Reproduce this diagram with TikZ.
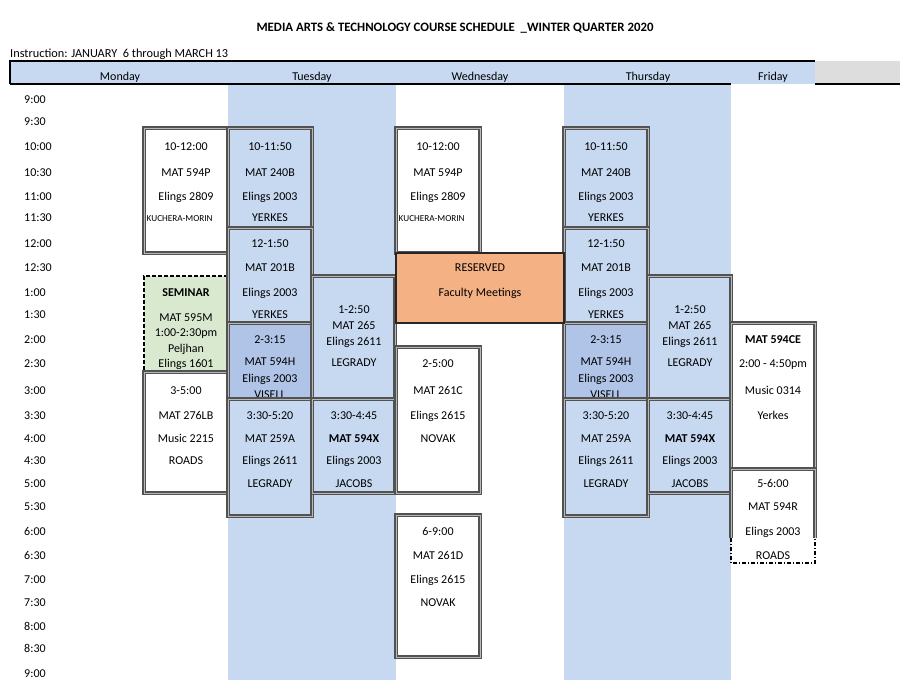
\documentclass[tikz,border=0pt]{standalone}
\usepackage{fontspec}
\setmainfont{Carlito}
\definecolor{colblue}{HTML}{C6D9F1}
\definecolor{slotdark}{HTML}{B0C4E8}
\definecolor{semgreen}{HTML}{D9E9D0}
\definecolor{resorange}{HTML}{F4B183}
\definecolor{hdrgrey}{HTML}{DDDDDD}
\newcommand{\slottext}[3]{\foreach \y/\t in {#3} \node[txt] (#1\y) at (#2,\y) {\t};}
\begin{document}
\begin{tikzpicture}[x=1pt,y=-1pt,
    every node/.style={font=\fontsize{12}{14}\selectfont},
    txt/.style={anchor=base, inner sep=0pt, yshift=-4pt},
    slot/.style={draw=black!68, double=black!28, line width=1.1pt, double distance=1pt},
    small/.style={font=\fontsize{9.2}{10}\selectfont}]
  \useasboundingbox (0,0) rectangle (900,680);
  % day columns and header
  \fill[colblue] (228,84) rectangle (396,680);
  \fill[colblue] (564,84) rectangle (731,680);
  \fill[colblue] (10,61) rectangle (815,84);
  \fill[hdrgrey] (815,61) rectangle (900,84);
  \draw[line width=1.4pt] (10,84) -- (10,61) -- (815,61);
  \draw[line width=1.4pt] (10,84) -- (731,84);
  \draw[line width=1.4pt] (815,84) -- (900,84);
  \node[txt,font=\fontsize{12.8}{14}\selectfont\bfseries] (title) at (455,27) {MEDIA ARTS \& TECHNOLOGY COURSE SCHEDULE~~\_WINTER QUARTER 2020};
  \node[txt,anchor=base west,font=\fontsize{12.3}{14}\selectfont] (term) at (10,53) {Instruction: JANUARY~~6 through MARCH 13};
  \foreach \x/\d in {120/Monday,312/Tuesday,480/Wednesday,648/Thursday,773/Friday}
    \node[txt] (\d) at (\x,76) {\d};
  \foreach \y/\t [count=\i] in {99/9:00,121/9:30,146/10:00,172/10:30,196/11:00,217/11:30,
      243/12:00,267/12:30,292/1:00,314/1:30,339/2:00,363/2:30,390/3:00,415/3:30,438/4:00,
      460/4:30,483/5:00,506/5:30,531/6:00,555/6:30,579/7:00,602/7:30,626/8:00,648/8:30,673/9:00}
    \node[txt,anchor=base west] (h\i) at (24,\y) {\t};

  % Monday
  \draw[slot,fill=white] (144,128) rectangle (228,253);
  \slottext{mon}{186}{146/10-12:00,172/MAT 594P,196/Elings 2809}
  \node[txt,small,anchor=base west] (mon217) at (146.5,217) {KUCHERA-MORIN};
  \fill[semgreen] (144,276) rectangle (228,372);
  \draw[line width=1.5pt,dash pattern=on 4pt off 2pt] (228,276) -- (144,276) -- (144,372) -- (228,372);
  \slottext{sem}{186}{292/\textbf{SEMINAR},317/MAT 595M,332/1:00-2:30pm,348/Peljhan,363/Elings 1601}
  \draw[slot,fill=white] (144,372) rectangle (228,493);
  \slottext{mon}{186}{390/3-5:00,415/MAT 276LB,438/Music 2215,460/ROADS}

  % Tuesday and Thursday
  \foreach \x in {228,564} {
    \draw[slot,fill=colblue] (\x,128) rectangle ++(84,100);
    \slottext{a\x}{\x+42}{146/10-11:50,172/MAT 240B,196/Elings 2003,217/YERKES}
    \draw[slot,fill=colblue] (\x,228) rectangle ++(84,95);
    \slottext{b\x}{\x+42}{243/12-1:50,267/MAT 201B,292/Elings 2003,314/YERKES}
    \draw[slot,fill=slotdark] (\x,323) rectangle ++(84,76);
    \slottext{c\x}{\x+42}{339/2-3:15,361/MAT 594H,378/Elings 2003,394/VISELL}
    \draw[slot,fill=colblue] (\x,399) rectangle ++(84,117);
    \slottext{d\x}{\x+42}{415/3:30-5:20,438/MAT 259A,460/Elings 2611,483/LEGRADY}
    \draw[slot,fill=colblue] (\x+84,276) rectangle ++(83,123);
    \slottext{e\x}{\x+126}{309/1-2:50,325/MAT 265,341/Elings 2611,362/LEGRADY}
    \draw[slot,fill=colblue] (\x+84,399) rectangle ++(83,94);
    \slottext{f\x}{\x+126}{415/3:30-4:45,438/\textbf{MAT 594X},460/Elings 2003,483/JACOBS}
  }

  % Wednesday
  \draw[slot,fill=white] (396,128) rectangle (480,253);
  \slottext{wed}{438}{146/10-12:00,172/MAT 594P,196/Elings 2809}
  \node[txt,small,anchor=base west] (wed217) at (398.5,217) {KUCHERA-MORIN};
  \draw[fill=resorange,draw=black!85,line width=1.1pt] (396,253) rectangle (564,323);
  \slottext{res}{480}{267/RESERVED,292/Faculty Meetings}
  \draw[slot,fill=white] (396,347) rectangle (480,493);
  \slottext{wed}{438}{363/2-5:00,390/MAT 261C,415/Elings 2615,438/NOVAK}
  \draw[slot,fill=white] (396,515) rectangle (480,657);
  \slottext{wed}{438}{531/6-9:00,555/MAT 261D,579/Elings 2615,602/NOVAK}

  % Friday
  \draw[slot,fill=white] (731,323) rectangle (815,469);
  \slottext{fri}{773}{339/\textbf{MAT 594CE},363/2:00 - 4:50pm,390/Music 0314,415/Yerkes}
  \fill[white] (731,469) rectangle (815,563);
  \draw[slot] (731,538) -- (731,469) -- (815,469) -- (815,538);
  \draw[line width=1.2pt,dash pattern=on 4pt off 2pt on 1pt off 2pt] (731,538) -- (731,563) -- (815,563) -- (815,538);
  \slottext{fri}{773}{483/5-6:00,506/MAT 594R,531/Elings 2003,555/ROADS}
\end{tikzpicture}
\end{document}
